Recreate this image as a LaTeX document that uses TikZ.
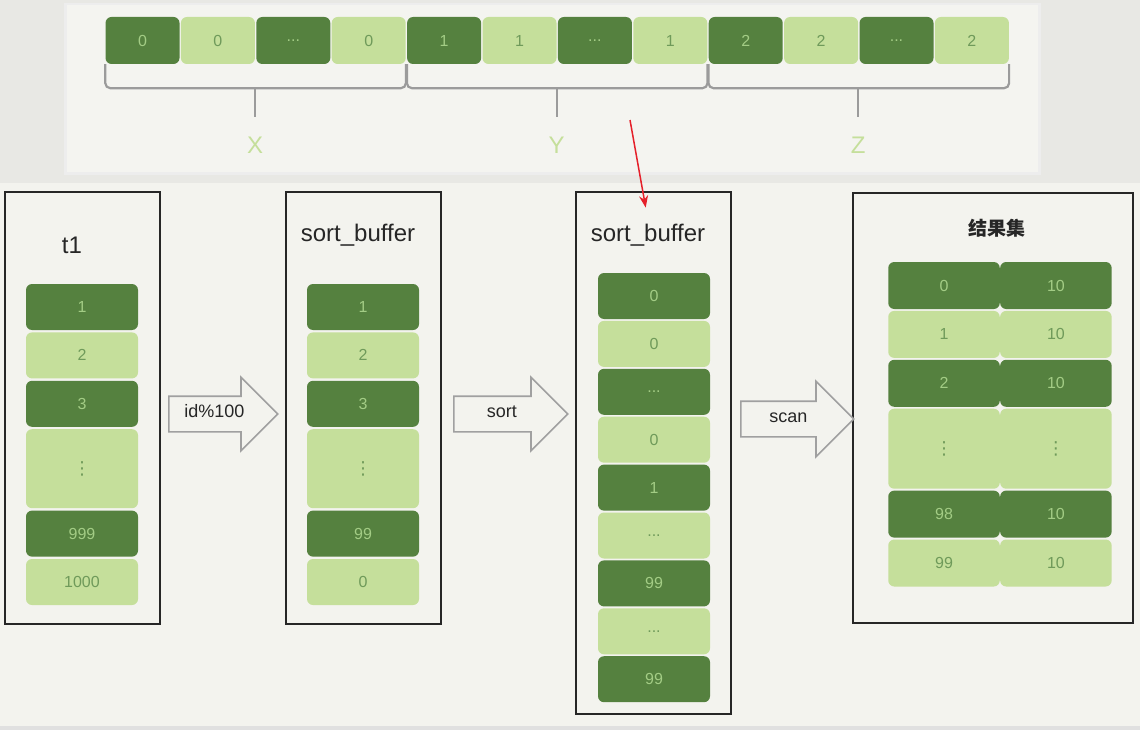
\documentclass[tikz,border=0pt]{standalone}
\usepackage{fontspec}
\setmainfont{Liberation Sans}
\newfontfamily\cjkfont{Noto Sans CJK SC}
\newfontfamily\symfont{DejaVu Sans}
\usepackage{xcolor}
\definecolor{sbdark}{HTML}{55813F}
\definecolor{sblight}{HTML}{C5DF9B}
\definecolor{sbdarktxt}{HTML}{A3CC85}
\definecolor{sblighttxt}{HTML}{6F9A5A}
\definecolor{sbpaper}{HTML}{F3F3EE}
\definecolor{sbpanel}{HTML}{F4F4F0}
\definecolor{sbshade}{HTML}{E8E8E4}
\definecolor{sbbrace}{HTML}{9B9B9B}
\definecolor{sbred}{HTML}{E5202A}
\definecolor{sbarrow}{HTML}{A0A0A0}
\usetikzlibrary{arrows.meta, positioning, calc, shapes.arrows}

\newcommand{\vdotsym}{{\symfont\fontsize{18}{18}\selectfont ⋮}}

\begin{document}
\begin{tikzpicture}[x=1pt, y=-1pt, >=Stealth,
    frame/.style={draw=black!85, line width=1.8pt, fill=sbpaper, inner sep=0pt},
    cellbase/.style={rectangle, rounded corners=6pt, inner sep=0pt,
        minimum width=112pt, minimum height=46pt,
        font=\fontsize{16}{16}\selectfont},
    darkcell/.style={cellbase, fill=sbdark, text=sbdarktxt},
    lightcell/.style={cellbase, fill=sblight, text=sblighttxt},
    tallcell/.style={minimum height=79pt},
    stripcell/.style={minimum width=74pt, minimum height=47pt},
    rescell/.style={minimum width=111.5pt, minimum height=47pt},
    title/.style={font=\fontsize{24}{24}\selectfont, text=black!85},
    bracket/.style={draw=sbbrace, line width=2.2pt, rounded corners=5pt},
    grouplabel/.style={text=sblight, font=\fontsize{24}{24}\selectfont},
    bigarrow/.style={single arrow, draw=sbarrow, line width=1.6pt, fill=sbpaper,
        single arrow head extend=19pt, inner xsep=4pt, inner ysep=11pt,
        text height=9pt, text depth=3pt, anchor=tail,
        font=\fontsize{18}{18}\selectfont, text=black!85},
    redline/.style={-{Stealth[length=12pt, width=9pt]}, draw=sbred, line width=1.5pt, shorten >=13pt}
]
\useasboundingbox (0,0) rectangle (1140,730);

% === Fondo ===
\fill[sbpaper] (0,0) rectangle (1140,730);
\fill[sbshade] (0,0) rectangle (1140,183);
\fill[black!7] (64,3) rectangle (1041,175);
\fill[sbpanel] (67,5) rectangle (1038,172);
\fill[black!12] (0,726) rectangle (1140,730);

% === Tira superior: valores X, Y, Z ===
\node[darkcell, stripcell] (s1) at (142.5,40.5) {0};
\node[lightcell, stripcell, right=1pt of s1] (s2) {0};
\node[darkcell, stripcell, right=1pt of s2] (s3) {...};
\node[lightcell, stripcell, right=1pt of s3] (s4) {0};
\node[darkcell, stripcell, right=1pt of s4] (s5) {1};
\node[lightcell, stripcell, right=1pt of s5] (s6) {1};
\node[darkcell, stripcell, right=1pt of s6] (s7) {...};
\node[lightcell, stripcell, right=1pt of s7] (s8) {1};
\node[darkcell, stripcell, right=1pt of s8] (s9) {2};
\node[lightcell, stripcell, right=1pt of s9] (s10) {2};
\node[darkcell, stripcell, right=1pt of s10] (s11) {...};
\node[lightcell, stripcell, right=1pt of s11] (s12) {2};

% Llaves bajo cada grupo
\draw[bracket] (s1.south west) -- ++(0,24) -| (s4.south east);
\draw[bracket] (s5.south west) -- ++(0,24) -| (s8.south east);
\draw[bracket] (s9.south west) -- ++(0,24) -| (s12.south east);
\draw[bracket] ($(s2.south east)+(0,24)$) -- ++(0,29);
\draw[bracket] ($(s6.south east)+(0,24)$) -- ++(0,29);
\draw[bracket] ($(s10.south east)+(0,24)$) -- ++(0,29);

\node[grouplabel] (gx) at ($(s2.south east)+(0,81)$) {X};
\node[grouplabel] (gy) at ($(s6.south east)+(0,81)$) {Y};
\node[grouplabel] (gz) at ($(s10.south east)+(0,81)$) {Z};

% === Marcos ===
\node[frame, minimum width=155pt, minimum height=432pt] (tbox) at (82.5,408) {};
\node[frame, minimum width=155pt, minimum height=432pt] (sbone) at (363.5,408) {};
\node[frame, minimum width=155pt, minimum height=522pt] (sbtwo) at (653.5,453) {};
\node[frame, minimum width=280pt, minimum height=430pt] (res) at (993,408) {};

% === Tabla t1 ===
\node[title] (ttitle) at (72,245) {t1};
\node[darkcell] (ta) at (82,307) {1};
\node[lightcell, below=2pt of ta] (tb) {2};
\node[darkcell, below=2pt of tb] (tc) {3};
\node[lightcell, tallcell, below=2pt of tc] (td) {\vdotsym};
\node[darkcell, below=2pt of td] (te) {999};
\node[lightcell, below=2pt of te] (tf) {1000};

% === sort_buffer (id%100) ===
\node[title] (sbonetitle) at (358,235) {sort\_buffer};
\node[darkcell] (ua) at (363,307) {1};
\node[lightcell, below=2pt of ua] (ub) {2};
\node[darkcell, below=2pt of ub] (uc) {3};
\node[lightcell, tallcell, below=2pt of uc] (ud) {\vdotsym};
\node[darkcell, below=2pt of ud] (ue) {99};
\node[lightcell, below=2pt of ue] (uf) {0};

% === sort_buffer ordenado ===
\node[title] (sbtwotitle) at (648,235) {sort\_buffer};
\node[darkcell] (va) at (654,296) {0};
\node[lightcell, below=1.5pt of va] (vb) {0};
\node[darkcell, below=1.5pt of vb] (vc) {...};
\node[lightcell, below=1.5pt of vc] (vd) {0};
\node[darkcell, below=1.5pt of vd] (ve) {1};
\node[lightcell, below=1.5pt of ve] (vf) {...};
\node[darkcell, below=1.5pt of vf] (vg) {99};
\node[lightcell, below=1.5pt of vg] (vh) {...};
\node[darkcell, below=1.5pt of vh] (vi) {99};

% === Conjunto de resultados ===
\node[title, font={\cjkfont\bfseries\fontsize{19}{19}\selectfont}] (restitle) at (997,228) {结果集};
\node[darkcell, rescell] (ra) at (944,285.5) {0};
\node[lightcell, rescell, below=1.5pt of ra] (rb) {1};
\node[darkcell, rescell, below=1.5pt of rb] (rc) {2};
\node[lightcell, rescell, minimum height=80pt, below=1.5pt of rc] (rd) {\vdotsym};
\node[darkcell, rescell, below=1.5pt of rd] (re) {98};
\node[lightcell, rescell, below=1.5pt of re] (rf) {99};
\node[darkcell, rescell, right=0pt of ra] (qa) {10};
\node[lightcell, rescell, right=0pt of rb] (qb) {10};
\node[darkcell, rescell, right=0pt of rc] (qc) {10};
\node[lightcell, rescell, minimum height=80pt, right=0pt of rd] (qd) {\vdotsym};
\node[darkcell, rescell, right=0pt of re] (qe) {10};
\node[lightcell, rescell, right=0pt of rf] (qf) {10};

% === Flechas de bloque ===
\node[bigarrow, minimum height=109pt] (modarrow) at (168,414) {id\%100};
\node[bigarrow, minimum height=114pt] (sortarrow) at (453,414) {sort};
\node[bigarrow, minimum height=113pt, single arrow head extend=20pt] (scanarrow) at (740,419) {scan};

% Flecha roja hacia el sort_buffer
\coordinate (redtail) at (630,120);
\draw[redline] (redtail) -- (sbtwotitle.north);

\end{tikzpicture}
\end{document}
